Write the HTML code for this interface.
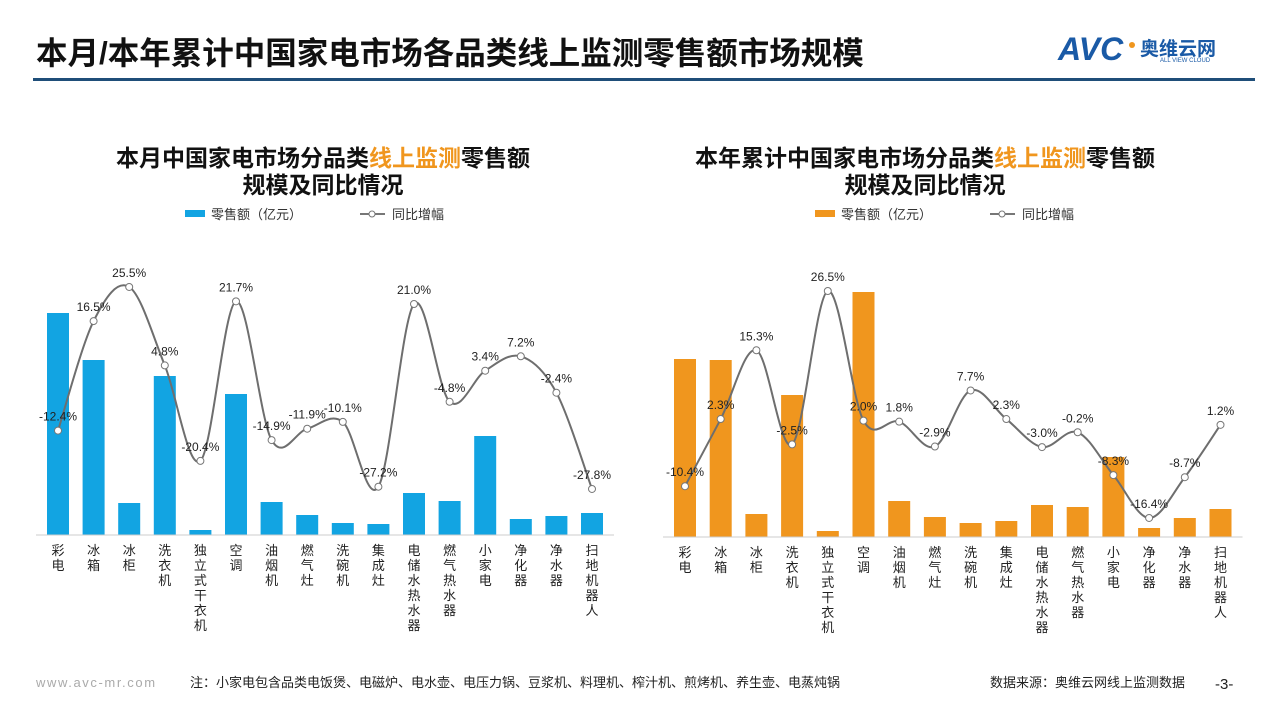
<!DOCTYPE html>
<html><head><meta charset="utf-8">
<style>
body{margin:0;width:1280px;height:720px;background:#fff;overflow:hidden;font-family:"Liberation Sans","Noto Sans CJK SC",sans-serif;}
svg{position:absolute;left:0;top:0}
</style></head>
<body>
<svg id="s" width="1280" height="720" xmlns="http://www.w3.org/2000/svg" font-family="Liberation Sans, Noto Sans CJK SC, sans-serif">
  <text x="36" y="64" font-size="31.5" font-weight="bold" fill="#111">本月/本年累计中国家电市场各品类线上监测零售额市场规模</text>
  <g>
    <text x="1058" y="60" font-size="32" font-weight="bold" font-style="italic" fill="#1a5aa6">AVC</text>
    <circle cx="1132" cy="45" r="3" fill="#f0961e"/>
    <text x="1140" y="55" font-size="19" font-weight="bold" fill="#1a5aa6">奥维云网</text>
    <text x="1160" y="62" font-size="6" fill="#1a5aa6">ALL VIEW CLOUD</text>
  </g>
  <rect x="33" y="78" width="1222" height="3" fill="#1f4e79"/>
  <g id="c1"></g><g id="c2"></g>
  <text x="36" y="687" font-size="13" letter-spacing="1.6" fill="#aaa">www.avc-mr.com</text>
  <text x="190" y="687" font-size="13" fill="#222">注：小家电包含品类电饭煲、电磁炉、电水壶、电压力锅、豆浆机、料理机、榨汁机、煎烤机、养生壶、电蒸炖锅</text>
  <text x="990" y="687" font-size="13" fill="#222">数据来源：奥维云网线上监测数据</text>
  <text x="1215" y="689" font-size="15" fill="#222">-3-</text>
</svg>
<script>
const categories=["彩电","冰箱","冰柜","洗衣机","独立式干衣机","空调","油烟机","燃气灶","洗碗机","集成灶","电储水热水器","燃气热水器","小家电","净化器","净水器","扫地机器人"];
const monthSales=[222,175,32,159,5,141,33,20,12,11,42,34,99,16,19,22];
const monthYoY=[-12.4,16.5,25.5,4.8,-20.4,21.7,-14.9,-11.9,-10.1,-27.2,21.0,-4.8,3.4,7.2,-2.4,-27.8];
const yearSales=[178,177,23,142,6,245,36,20,14,16,32,30,80,9,19,28];
const yearYoY=[-10.4,2.3,15.3,-2.5,26.5,2.0,1.8,-2.9,7.7,2.3,-3.0,-0.2,-8.3,-16.4,-8.7,1.2];
const NS="http://www.w3.org/2000/svg";
function mk(p,t,a,txt){const e=document.createElementNS(NS,t);for(const k in a)e.setAttribute(k,a[k]);if(txt!=null)e.textContent=txt;p.appendChild(e);return e;}
function chart(g,o){
  const x=i=>o.x0+i*o.step;
  const yb=v=>o.base-v*o.bs;
  const yl=v=>o.zero-v*o.ls;
  let t=mk(g,'text',{x:o.cx,y:166,'font-size':23,'font-weight':'bold','text-anchor':'middle',fill:'#111'});
  
  
  o.title.forEach((s,k)=>{mk(t,'tspan',{fill:k==1?'#f0961e':'#111'},s);});
  t=mk(g,'text',{x:o.cx,y:193,'font-size':23,'font-weight':'bold','text-anchor':'middle',fill:'#111'},'规模及同比情况');
  
  
  let r=mk(g,'rect',{x:o.lx,y:210,width:20,height:7,fill:o.color});
  
  
  mk(g,'text',{x:o.lx+26,y:219,'font-size':13,fill:'#333'},'零售额（亿元）');
  r=mk(g,'line',{x1:o.lx+175,y1:214,x2:o.lx+200,y2:214,stroke:'#777','stroke-width':2});
  
  
  mk(g,'circle',{cx:o.lx+187,cy:214,r:3,fill:'#fff',stroke:'#777'});
  mk(g,'text',{x:o.lx+207,y:219,'font-size':13,fill:'#333'},'同比增幅');
  categories.forEach((c,i)=>{
    const b=mk(g,'rect',{x:x(i)-11,y:yb(o.sales[i]),width:22,height:o.sales[i]*o.bs,fill:o.color});
    
    
    const lab=mk(g,'text',{x:x(i),y:o.base+20,'font-size':13,'text-anchor':'middle',fill:'#222'});
    
    
    [...c].forEach((ch,k)=>mk(lab,'tspan',{x:x(i),y:o.base+20+k*15},ch));
  });
  mk(g,'line',{x1:o.x0-22,y1:o.base,x2:x(15)+22,y2:o.base,stroke:'#ccc'});
  const pts=o.yoy.map((v,i)=>[x(i),yl(v)]);
  let d='M'+pts[0].join(',');
  for(let i=0;i<pts.length-1;i++){
    const p0=pts[Math.max(0,i-1)],p1=pts[i],p2=pts[i+1],p3=pts[Math.min(pts.length-1,i+2)];
    const c1=[p1[0]+(p2[0]-p0[0])/6,p1[1]+(p2[1]-p0[1])/6],c2=[p2[0]-(p3[0]-p1[0])/6,p2[1]-(p3[1]-p1[1])/6];
    d+=` C${c1} ${c2} ${p2}`;
  }
  const ln=mk(g,'path',{d:d,fill:'none',stroke:'#6e6e6e','stroke-width':2});
  
  
  pts.forEach((p,i)=>{
    const c=mk(g,'circle',{cx:p[0],cy:p[1],r:3.5,fill:'#fff',stroke:'#777'});
    
    
    const l=mk(g,'text',{x:p[0],y:p[1]-10,'font-size':12,'text-anchor':'middle',fill:'#222'},o.yoy[i].toFixed(1)+'%');
    
    
  });
}
chart(document.getElementById('c1'),{x0:58,step:35.6,base:535,bs:1,zero:383.6,ls:3.79,color:'#12a4e2',sales:monthSales,yoy:monthYoY,cx:323,lx:185,title:['本月中国家电市场分品类','线上监测','零售额']});
chart(document.getElementById('c2'),{x0:685,step:35.7,base:537,bs:1,zero:431.2,ls:5.29,color:'#f0961e',sales:yearSales,yoy:yearYoY,cx:925,lx:815,title:['本年累计中国家电市场分品类','线上监测','零售额']});
</script>
</body></html>
